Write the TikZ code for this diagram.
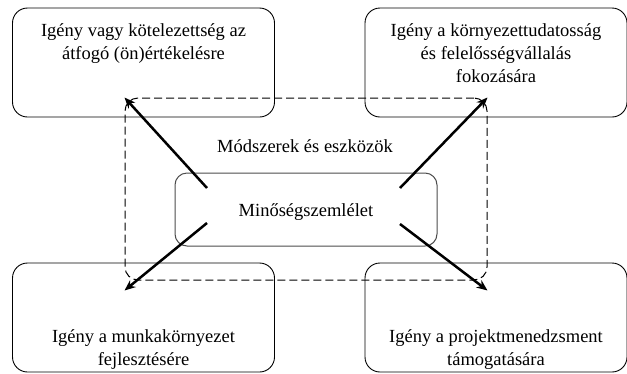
\documentclass[tikz,border=0pt]{standalone}
\usepackage{fontspec}
\setmainfont{Liberation Serif}
\usetikzlibrary{positioning,arrows.meta}

\tikzset{
	igeny/.style={draw, rounded corners=15pt, line width=0.9pt, inner sep=0pt, minimum width=262pt, minimum height=109pt},
	felirat/.style={align=center, inner sep=0pt, font=\fontsize{18.5}{23}\selectfont},
	nyil/.style={line width=2.5pt, -{Stealth[length=11pt,width=9pt]}}
}

\begin{document}
	\begin{tikzpicture}[x=1pt, y=-1pt]
		\useasboundingbox (0, 0) rectangle (627, 373);
		
		% eszkozok es a kozepso doboz
		\node[draw, dash pattern=on 8pt off 4pt, rounded corners=13pt, line width=1pt, minimum width=362pt, minimum height=182pt] (eszkozok) at (306, 189) {};
		\node[draw, black!70, rounded corners=12pt, line width=1pt, minimum width=262pt, minimum height=73pt] (szemlelet) at (306, 209.5) {};
		\node[felirat] (szemleletszoveg) at (306, 212) {Minőségszemlélet};
		\node[felirat] (eszkozszoveg) at (305, 146) {Módszerek és eszközök};
		
		% a negy igeny
		\node[igeny] (ertekeles) at (143.5, 62.5) {};
		\node[igeny] (tudatossag) at (496, 62.5) {};
		\node[igeny] (munkakornyezet) at (143.5, 317.5) {};
		\node[igeny] (projekt) at (496, 317.5) {};
		
		\node[felirat, below=16pt of ertekeles.north] (ertekelesszoveg) {Igény vagy kötelezettség az\\átfogó (ön)értékelésre};
		\node[felirat, below=16pt of tudatossag.north] (tudatossagszoveg) {Igény a környezettudatosság\\és felelősségvállalás\\fokozására};
		\node[felirat, above=3pt of munkakornyezet.south] (munkaszoveg) {Igény a munkakörnyezet\\fejlesztésére};
		\node[felirat, above=3pt of projekt.south] (projektszoveg) {Igény a projektmenedzsment\\támogatására};
		
		% a nyilak kezdopontjai
		\coordinate (A) at (207, 188);
		\coordinate (B) at (400, 188);
		\coordinate (C) at (207, 223);
		\coordinate (D) at (400, 224);
		
		\draw[nyil] (A) -- (eszkozok.north west);
		\draw[nyil] (B) -- (eszkozok.north east);
		\draw[nyil] (C) -- ([yshift=-10pt]eszkozok.south west);
		\draw[nyil] (D) -- ([yshift=-10pt]eszkozok.south east);
	\end{tikzpicture}
\end{document}
